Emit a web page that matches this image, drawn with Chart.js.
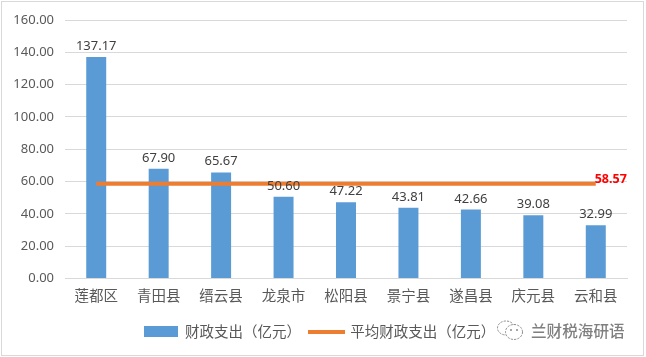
<!DOCTYPE html>
<html><head><meta charset="utf-8">
<style>
html,body{margin:0;padding:0;background:#fff}
#wrap{position:relative;width:646px;height:357px;overflow:hidden}
#frame{position:absolute;left:1px;top:1px;width:641px;height:353px;border:1.5px solid #d9d9d9;pointer-events:none}
#mark{position:absolute;left:531px;top:320px;font:500 15.6px "Noto Sans CJK SC";color:#7f7f7f;white-space:nowrap;line-height:20px}
#icon{position:absolute;left:496px;top:318px}
</style>
<script src="https://cdn.jsdelivr.net/npm/chart.js@4"></script>
</head><body>
<div id="wrap">
<canvas id="c" width="646" height="357"></canvas>
<div id="frame"></div>
<svg id="icon" width="30" height="24" viewBox="0 0 30 24" fill="none" stroke="#8a8a8a" stroke-width="1" stroke-dasharray="2.2 1.2">
<ellipse cx="10" cy="10" rx="8.5" ry="7"/><ellipse cx="18" cy="14" rx="8.5" ry="7.5" fill="#fff"/>
<circle cx="15" cy="12" r="1" fill="#8a8a8a" stroke="none"/><circle cx="21" cy="12" r="1" fill="#8a8a8a" stroke="none"/>
</svg>
<div id="mark">兰财税海研语</div>
</div>
<script>
const categories = ["莲都区","青田县","缙云县","龙泉市","松阳县","景宁县","遂昌县","庆元县","云和县"];
const spending = [137.17,67.90,65.67,50.60,47.22,43.81,42.66,39.08,32.99];
const average = [58.57,58.57,58.57,58.57,58.57,58.57,58.57,58.57,58.57];
const seriesNames = ["财政支出（亿元）","平均财政支出（亿元）"];

const CJK = '"Noto Sans CJK SC"';
const NUM = '"Noto Sans"';

function swatch(w,h,color){
  const s=document.createElement('canvas');s.width=w;s.height=h;
  const x=s.getContext('2d');x.fillStyle=color;x.fillRect(0,0,w,h);return s;
}
const labelPlugin={id:'valueLabels',afterDatasetsDraw(chart){
  const ctx=chart.ctx;ctx.save();ctx.textAlign='center';ctx.textBaseline='alphabetic';
  const bars=chart.getDatasetMeta(0).data;
  ctx.font='13px '+NUM;ctx.fillStyle='#404040';
  bars.forEach((b,i)=>ctx.fillText(spending[i].toFixed(2),b.x,b.y-7));
  const pts=chart.getDatasetMeta(1).data;const last=pts[pts.length-1];
  ctx.font='bold 12.5px '+NUM;ctx.fillStyle='#ff0000';
  ctx.fillText(average[average.length-1].toFixed(2),last.x+15,last.y-1);
  ctx.restore();
}};
new Chart(document.getElementById('c'),{
  data:{labels:categories,datasets:[
    {type:'bar',label:seriesNames[0],data:spending,backgroundColor:'#5b9bd5',barPercentage:0.32,categoryPercentage:1,order:2},
    {type:'line',label:seriesNames[1],data:average,borderColor:'#ed7d31',backgroundColor:'#ed7d31',borderWidth:4,pointRadius:0,tension:0,order:1}
  ]},
  options:{
    responsive:false,animation:false,
    layout:{padding:{top:20,right:19,left:12,bottom:8}},
    plugins:{
      tooltip:{enabled:false},
      legend:{position:'bottom',align:'center',
        labels:{
          usePointStyle:true,pointStyleWidth:34,padding:8,
          font:{family:CJK,size:14.5},color:'#595959',
          generateLabels(chart){
            return [
              {text:seriesNames[0],fontColor:'#595959',pointStyle:swatch(34,11,'#5b9bd5'),datasetIndex:0,lineWidth:0,strokeStyle:'transparent'},
              {text:seriesNames[1],fontColor:'#595959',pointStyle:swatch(37,4,'#ed7d31'),datasetIndex:1,lineWidth:0,strokeStyle:'transparent'}
            ];
          }
        }
      }
    },
    scales:{
      x:{grid:{display:false,drawTicks:false},border:{color:'#d9d9d9',width:1},
         ticks:{font:{family:CJK,size:14.5},color:'#595959',padding:8,maxRotation:0},
         afterFit(s){s.height=38}},
      y:{min:0,max:160,grid:{color:'#d9d9d9',drawTicks:false},border:{display:false},
         ticks:{stepSize:20,padding:11,font:{family:NUM,size:13},color:'#595959',callback:v=>v.toFixed(2)},
         afterFit(s){s.width=53}}
    }
  },
  plugins:[labelPlugin]
});
</script>
</body></html>
